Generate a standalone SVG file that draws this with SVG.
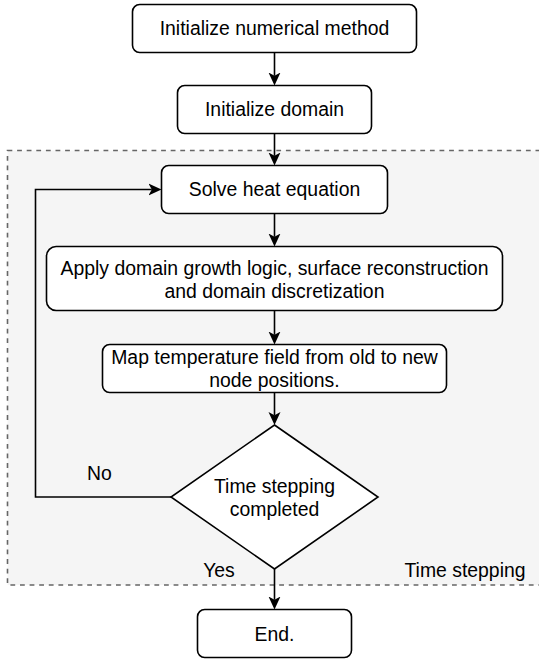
<svg xmlns="http://www.w3.org/2000/svg" width="539" height="659" viewBox="0 0 539 659">
  <style>
    .box { fill: #ffffff; stroke: #000000; stroke-width: 1.6; }
    .txt { font-family: "Liberation Sans", Arial, sans-serif; font-size: 19.4px; fill: #000000; text-anchor: middle; }
    .edge { fill: none; stroke: #000000; stroke-width: 1.6; }
  </style>
  <defs>
    <marker id="arr" viewBox="0 0 13 13" refX="3.3" refY="6.5" markerWidth="13" markerHeight="13" markerUnits="userSpaceOnUse" orient="auto">
      <path d="M0,0.5 L13,6.5 L0,12.5 L3.3,6.5 Z" fill="#000000"/>
    </marker>
  </defs>

  <g id="container">
    <rect x="7.5" y="150.5" width="545" height="434.5" fill="#f5f5f5" stroke="#666666" stroke-width="1.6" stroke-dasharray="4.8 4.8"/>
    <text class="txt" x="465" y="577">Time stepping</text>
  </g>

  <g id="connectors">
    <path class="edge" d="M274.5,52.5 L274.5,75.8" marker-end="url(#arr)"/>
    <path class="edge" d="M274.5,133.5 L274.5,155.8" marker-end="url(#arr)"/>
    <path class="edge" d="M274.5,213.5 L274.5,236.8" marker-end="url(#arr)"/>
    <path class="edge" d="M274.5,310.5 L274.5,334.8" marker-end="url(#arr)"/>
    <path class="edge" d="M274.5,392.5 L274.5,415.3" marker-end="url(#arr)"/>
    <path class="edge" d="M274.5,569 L274.5,599.8" marker-end="url(#arr)"/>
    <path class="edge" d="M171,497 L35.5,497 L35.5,189.5 L151.8,189.5" marker-end="url(#arr)"/>
    <text class="txt" x="99.5" y="480">No</text>
    <text class="txt" x="219" y="577">Yes</text>
  </g>

  <g id="init-method">
    <rect class="box" x="132.5" y="4.5" width="284" height="48" rx="7.2" ry="7.2"/>
    <text class="txt" x="274.5" y="35.4">Initialize numerical method</text>
  </g>

  <g id="init-domain">
    <rect class="box" x="177.5" y="85.5" width="194" height="48" rx="7.2" ry="7.2"/>
    <text class="txt" x="274.5" y="116.4">Initialize domain</text>
  </g>

  <g id="solve-heat">
    <rect class="box" x="161.5" y="165.5" width="226" height="48" rx="7.2" ry="7.2"/>
    <text class="txt" x="274.5" y="196.4">Solve heat equation</text>
  </g>

  <g id="domain-growth">
    <rect class="box" x="46.5" y="246.5" width="456" height="64" rx="9.6" ry="9.6"/>
    <text class="txt" x="274.5" y="274.9">Apply domain growth logic, surface reconstruction</text>
    <text class="txt" x="274.5" y="298">and domain discretization</text>
  </g>

  <g id="map-temperature">
    <rect class="box" x="102.5" y="344.5" width="344" height="48" rx="7.2" ry="7.2"/>
    <text class="txt" x="274.5" y="364">Map temperature field from old to new</text>
    <text class="txt" x="274.5" y="387.1">node positions.</text>
  </g>

  <g id="decision">
    <polygon class="box" points="274.5,425 378,497 274.5,569 171,497"/>
    <text class="txt" x="274.5" y="492.6">Time stepping</text>
    <text class="txt" x="274.5" y="515.7">completed</text>
  </g>

  <g id="end">
    <rect class="box" x="197.5" y="609.5" width="154" height="48" rx="7.2" ry="7.2"/>
    <text class="txt" x="274.5" y="640.6">End.</text>
  </g>
</svg>
